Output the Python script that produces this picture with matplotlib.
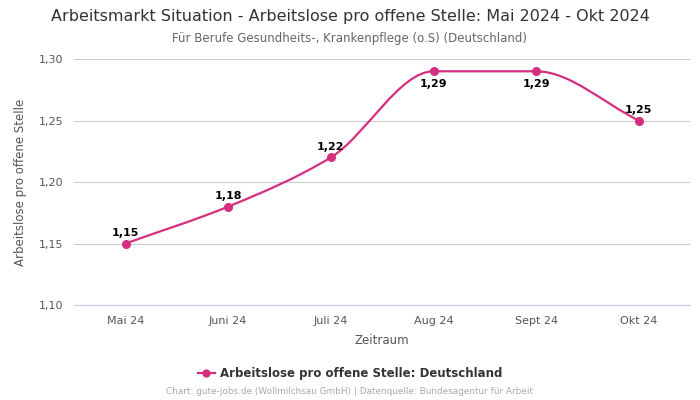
import matplotlib.pyplot as plt
import numpy as np
from matplotlib.path import Path
from matplotlib.patches import PathPatch

months = ['Mai 24', 'Juni 24', 'Juli 24', 'Aug 24', 'Sept 24', 'Okt 24']
values = [1.15, 1.18, 1.22, 1.29, 1.29, 1.25]
labels = ['1,15', '1,18', '1,22', '1,29', '1,29', '1,25']
label_below = [False, False, False, True, True, False]

yticks = [1.10, 1.15, 1.20, 1.25, 1.30]
ytick_labels = ['1,10', '1,15', '1,20', '1,25', '1,30']

color = '#d42f7e'

fig = plt.figure(figsize=(7, 4), dpi=100)
ax = fig.add_axes([0.106, 0.2375, 0.88, 0.615])

x = np.arange(len(values))
y = np.array(values)

# monotone tangents (Fritsch-Carlson) for smooth bezier line
d = np.diff(y) / np.diff(x)
m = np.zeros_like(y)
m[0], m[-1] = d[0], d[-1]
for i in range(1, len(y) - 1):
    if d[i - 1] * d[i] <= 0:
        m[i] = 0
    else:
        m[i] = 2 / (1 / d[i - 1] + 1 / d[i])

verts = [(x[0], y[0])]
codes = [Path.MOVETO]
for i in range(len(y) - 1):
    h = x[i + 1] - x[i]
    verts += [(x[i] + h / 3, y[i] + m[i] * h / 3),
              (x[i + 1] - h / 3, y[i + 1] - m[i + 1] * h / 3),
              (x[i + 1], y[i + 1])]
    codes += [Path.CURVE4] * 3
ax.add_patch(PathPatch(Path(verts, codes), facecolor='none', edgecolor=color, lw=1.6, zorder=3))

ax.plot(x, y, linestyle='none', marker='o', ms=5.5, color=color, zorder=4,
        label='Arbeitslose pro offene Stelle: Deutschland')

for xi, yi, lab, below in zip(x, y, labels, label_below):
    if below:
        ax.annotate(lab, (xi, yi), xytext=(0, -13), textcoords='offset points',
                    ha='center', va='bottom', fontsize=8, fontweight='bold', color='black')
    else:
        ax.annotate(lab, (xi, yi), xytext=(0, 4), textcoords='offset points',
                    ha='center', va='bottom', fontsize=8, fontweight='bold', color='black')

ax.set_xlim(-0.5, len(values) - 0.5)
ax.set_ylim(1.10, 1.30)
ax.set_xticks(x)
ax.set_xticklabels(months)
ax.set_yticks(yticks)
ax.set_yticklabels(ytick_labels)
ax.tick_params(axis='both', length=0, labelsize=8, colors='#555555', pad=8)
ax.grid(axis='y', color='#cccccc', lw=0.8)
ax.axhline(1.10, color='#c8d0e0', lw=0.9, clip_on=False, zorder=1)
ax.set_axisbelow(True)
for s in ax.spines.values():
    s.set_visible(False)

ax.set_xlabel('Zeitraum', fontsize=8.5, color='#555555', labelpad=6)
ax.set_ylabel('Arbeitslose pro offene Stelle', fontsize=8.5, color='#555555', labelpad=8)

fig.text(0.5, 0.958, 'Arbeitsmarkt Situation - Arbeitslose pro offene Stelle: Mai 2024 - Okt 2024',
         ha='center', va='center', fontsize=11.5, color='#333333')
fig.text(0.5, 0.903, 'Für Berufe Gesundheits-, Krankenpflege (o.S) (Deutschland)',
         ha='center', va='center', fontsize=8.5, color='#666666')

fig.legend(loc='center', bbox_to_anchor=(0.5, 0.067), frameon=False,
           prop={'size': 8.5, 'weight': 'bold'}, labelcolor='#333333',
           handlelength=1.5, handletextpad=0.4, markerscale=0.9)
# legend line through marker
leg = fig.legends[0]
leg.legend_handles[0].set_linestyle('-')
leg.legend_handles[0].set_linewidth(1.6)

fig.text(0.5, 0.02, 'Chart: gute-jobs.de (Wollmilchsau GmbH) | Datenquelle: Bundesagentur für Arbeit',
         ha='center', va='center', fontsize=6.4, color='#aaaaaa')

fig.savefig('out.png', dpi=100)
